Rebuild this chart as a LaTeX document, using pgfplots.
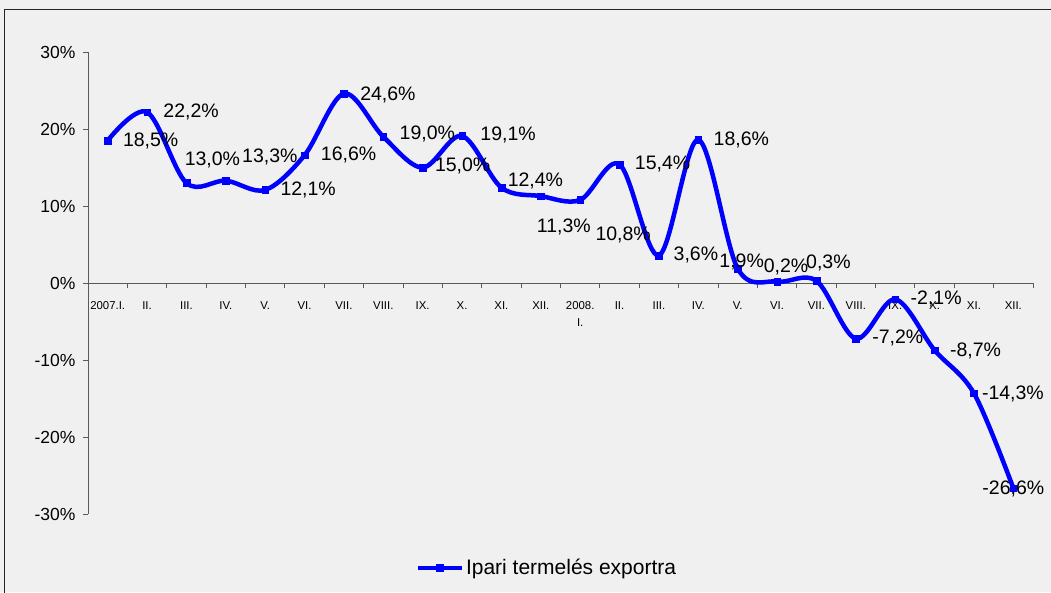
\documentclass[border=0pt]{standalone}
\usepackage{fontspec}
\setmainfont{Liberation Sans}
\usepackage{pgfplots}
\pgfplotsset{compat=1.18}
\usepackage{pgfplotstable}
\definecolor{bg}{RGB}{240,240,240}
\definecolor{lineblue}{RGB}{0,0,255}
\definecolor{axisgray}{RGB}{90,90,90}

\pgfplotstableread{
x y dx dy
0 18.5 43 0
1 22.2 44 0
2 13.0 26 23
3 13.3 44 24
4 12.1 43 0
5 16.6 44 0
6 24.6 44 -1
7 19.0 44 3
8 15.0 40 2
9 19.1 46 1
10 12.4 34 7
11 11.3 23 -31
12 10.8 43 -35
13 15.4 43 1
14 3.6 37 0
15 18.6 43 0
16 1.9 4 7
17 0.2 9 15
18 0.3 12 18
19 -7.2 42 1
20 -2.1 41 0
21 -8.7 41 -1
22 -14.3 39 -1
23 -26.6 0 -1
}\datatable

\begin{document}
\begin{tikzpicture}
\path[use as bounding box, fill=bg] (-88pt,-77.7pt) rectangle (963pt,514.3pt);
\draw[black!85, line width=1pt] (-83.7pt,-80pt) -- (-83.7pt,504.3pt) -- (966pt,504.3pt);
\begin{axis}[
  at={(0pt,0pt)}, anchor=south west,
  scale only axis, width=945pt, height=462.3pt,
  xmin=-0.5, xmax=23.5, ymin=-30, ymax=30,
  axis y line=left, axis x line=middle,
  axis line style={-, axisgray, line width=0.8pt},
  clip=false,
  /pgf/number format/assume math mode=true,
  tick align=outside, major tick length=5pt,
  tick style={axisgray, line width=0.8pt},
  ytick={-30,-20,...,30},
  yticklabel={\pgfmathprintnumber{\tick}\%},
  yticklabel style={font=\fontsize{17.5}{20}\selectfont, xshift=-4pt},
  xtick={-0.5,0.5,...,23.5},
  xticklabel={\relax},
  extra x ticks={0,1,...,23},
  extra x tick labels={2007.I.,II.,III.,IV.,V.,VI.,VII.,VIII.,IX.,X.,XI.,XII.,{2008.\\I.},II.,III.,IV.,V.,VI.,VII.,VIII.,IX.,X.,XI.,XII.},
  extra x tick style={major tick length=0pt, xticklabel style={font=\fontsize{11.4}{17}\selectfont, align=center, anchor=north, yshift=-15pt}},
  legend style={at={(axis description cs:0.4855,-0.116)}, anchor=center, draw=none, fill=none, font=\fontsize{21}{24}\selectfont},
  legend image code/.code={\draw[#1, mark repeat=2, mark phase=2] plot coordinates {(0pt,0pt) (22pt,0pt) (44pt,0pt)};},
]
\addplot[lineblue, line width=4.5pt, smooth, tension=0.55,
  mark=square*, mark size=3.3pt, mark options={solid, line width=0.4pt},
  visualization depends on={\thisrow{dx} \as \labdx},
  visualization depends on={\thisrow{dy} \as \labdy},
  nodes near coords={\pgfmathprintnumber[fixed,fixed zerofill,precision=1,use comma]{\pgfplotspointmeta}\%},
  every node near coord/.style={anchor=center, xshift=\labdx pt, yshift=\labdy pt, font=\fontsize{19.5}{22}\selectfont, text=black, inner sep=0pt},
] table[x=x,y=y] {\datatable};
\addlegendentry{Ipari termelés exportra}
\end{axis}
\end{tikzpicture}
\end{document}
